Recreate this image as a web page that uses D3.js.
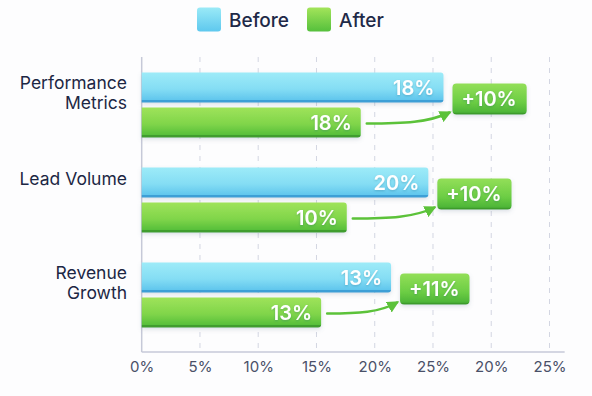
<!DOCTYPE html>
<html><head><meta charset="utf-8">
<script src="https://cdn.jsdelivr.net/npm/d3@7"></script>
<style>
html,body{margin:0;padding:0;background:#fdfdfe;}
svg{display:block;font-family:Inter,"Open Sans",sans-serif;}
</style></head>
<body>
<script>
// ---- data ----
const categories = [["Performance","Metrics"],["Lead Volume"],["Revenue","Growth"]];
const series = ["Before","After"];
const beforeValues = [25.9, 24.6, 21.4];   // bar length on axis scale
const afterValues  = [18.8, 17.6, 15.4];
const beforeLabels = ["18%","20%","13%"];
const afterLabels  = ["18%","10%","13%"];
const changeLabels = ["+10%","+10%","+11%"];
const tickValues = [0,5,10,15,20,25,30,35];
const tickLabels = ["0%","5%","10%","15%","20%","25%","20%","25%"];

const W = 592, H = 396;
const svg = d3.select("body").append("svg").attr("width", W).attr("height", H);
const defs = svg.append("defs");

function grad(id, stops){
  const g = defs.append("linearGradient").attr("id", id).attr("x1",0).attr("y1",0).attr("x2",0).attr("y2",1);
  stops.forEach(s => g.append("stop").attr("offset", s[0]).attr("stop-color", s[1]));
}
grad("gBefore", [[0,"#9debf8"],[0.55,"#84ddf4"],[0.9,"#62c7ed"],[0.92,"#3d9fd6"],[1,"#3d9fd6"]]);
grad("gAfter", [[0,"#9fe35a"],[0.55,"#80d54a"],[0.9,"#59c03b"],[0.92,"#3f9d2d"],[1,"#3f9d2d"]]);
grad("gBadge", [[0,"#93df58"],[0.6,"#6ccd44"],[0.93,"#4db537"],[0.95,"#3e9b2c"],[1,"#3e9b2c"]]);
grad("gSwB", [[0,"#9aeaf7"],[1,"#5ec8ee"]]);
grad("gSwA", [[0,"#a3e45a"],[1,"#55c03c"]]);

const sh = defs.append("filter").attr("id","shadow").attr("x","-10%").attr("y","-30%").attr("width","130%").attr("height","180%");
sh.append("feDropShadow").attr("dx",0).attr("dy",2).attr("stdDeviation",2).attr("flood-color","#6a7890").attr("flood-opacity",0.22);
const ts = defs.append("filter").attr("id","tshadow").attr("x","-20%").attr("y","-30%").attr("width","140%").attr("height","160%");
ts.append("feDropShadow").attr("dx",0).attr("dy",1).attr("stdDeviation",0.8).attr("flood-color","#1c5a7a").attr("flood-opacity",0.3);

defs.append("marker").attr("id","arrow").attr("viewBox","0 0 10 10").attr("refX",8).attr("refY",5)
  .attr("markerWidth",4.8).attr("markerHeight",4.8).attr("orient","auto-start-reverse").attr("markerUnits","strokeWidth")
  .append("path").attr("d","M0,0 L10,5 L0,10 Z").attr("fill","#5cc23a");

// ---- scales ----
const x = d3.scaleLinear().domain([0,35]).range([141.7, 549.5]);
const y = d3.scaleBand().domain(d3.range(categories.length)).range([57.5, 342.5]);
const sub = d3.scaleBand().domain(series).range([-32.5, 32.5]).paddingInner(1/7);
const plotTop = 57, plotBottom = 352;

// ---- grid ----
svg.append("g").selectAll("line").data(tickValues.slice(1)).join("line")
  .attr("x1", d=>x(d)).attr("x2", d=>x(d)).attr("y1", plotTop).attr("y2", plotBottom)
  .attr("stroke","#d3d6e2").attr("stroke-width",1).attr("stroke-dasharray","5,6");

// axes lines
svg.append("line").attr("x1", x(0)).attr("x2", x(0)).attr("y1", plotTop).attr("y2", plotBottom)
  .attr("stroke","#c6c9d8").attr("stroke-width",1.5);
svg.append("line").attr("x1", x(0)).attr("x2", x(36.3)).attr("y1", plotBottom).attr("y2", plotBottom)
  .attr("stroke","#c6c9d8").attr("stroke-width",1.5);

const ax = svg.append("g").attr("transform",`translate(0,${plotBottom})`)
  .call(d3.axisBottom(x).tickValues(tickValues).tickFormat((d,i)=>tickLabels[i]).tickSize(0).tickPadding(9));
ax.select(".domain").remove();
ax.selectAll("text").attr("font-size",15).attr("fill","#4a5068").attr("font-family","Inter, sans-serif");

// ---- bars ----
function barPath(x0, x1, y0, h, r){
  return `M${x0},${y0} H${x1-r} Q${x1},${y0} ${x1},${y0+r} V${y0+h-r} Q${x1},${y0+h} ${x1-r},${y0+h} H${x0} Z`;
}
const rows = categories.map((c,i)=>({i, c, b: beforeValues[i], a: afterValues[i], bl: beforeLabels[i], al: afterLabels[i], ch: changeLabels[i]}));
const g = svg.append("g");
rows.forEach(r=>{
  const cy = y(r.i) + y.bandwidth()/2;
  const yb = cy + sub("Before"), ya = cy + sub("After"), h = sub.bandwidth();
  g.append("path").attr("d", barPath(x(0), x(r.b), yb, h, 3)).attr("fill","url(#gBefore)").attr("filter","url(#shadow)");
  g.append("path").attr("d", barPath(x(0), x(r.a), ya, h, 3)).attr("fill","url(#gAfter)").attr("filter","url(#shadow)");
  g.append("text").attr("x", x(r.b)-9).attr("y", yb + h/2 + 7.5).attr("text-anchor","end")
    .attr("font-size",20).attr("font-weight",600).attr("fill","#ffffff").attr("filter","url(#tshadow)").text(r.bl);
  g.append("text").attr("x", x(r.a)-9).attr("y", ya + h/2 + 7.5).attr("text-anchor","end")
    .attr("font-size",20).attr("font-weight",600).attr("fill","#ffffff").attr("filter","url(#tshadow)").text(r.al);

  // category label
  const lines = r.c;
  const lh = 19.5;
  const t = g.append("text").attr("text-anchor","end").attr("font-size",17.5).attr("font-weight",400).attr("fill","#1c2744");
  lines.forEach((ln,k)=>{
    t.append("tspan").attr("x",127).attr("y", cy - (lines.length===1 ? 15 : 16) + k*lh).text(ln);
  });

  // badge
  const bx = x(r.b) + 9, bh = 31, by = cy - 6 - bh/2;
  const bg = g.append("g");
  const rect = bg.append("rect").attr("x", bx).attr("y", by).attr("height", bh).attr("rx",4)
    .attr("fill","url(#gBadge)").attr("filter","url(#shadow)");
  const bt = bg.append("text").attr("x", bx + 9).attr("y", by + bh/2 + 7)
    .attr("font-size",20).attr("font-weight",600).attr("fill","#fff").attr("filter","url(#tshadow)").text(r.ch);
  const tw = bt.node().getComputedTextLength();
  rect.attr("width", tw + 19);

  // arrow
  const x0 = x(r.a) + 6, y0 = ya + h/2 + 1;
  const x1 = bx - 3, y1 = by + bh - 2;
  const dx = x1 - x0;
  g.append("path").attr("d", `M${x0},${y0} C${x0+dx*0.45},${y0} ${x0+dx*0.75},${y0-1} ${x1},${y1}`)
    .attr("fill","none").attr("stroke","#5cc23a").attr("stroke-width",2.5).attr("stroke-linecap","round")
    .attr("marker-end","url(#arrow)");
});

// ---- legend ----
const lg = svg.append("g");
const items = [{s:"Before", fill:"url(#gSwB)", x:197},{s:"After", fill:"url(#gSwA)", x:307}];
items.forEach(it=>{
  lg.append("rect").attr("x", it.x).attr("y", 7.5).attr("width",24).attr("height",24).attr("rx",3).attr("fill", it.fill);
  lg.append("text").attr("x", it.x+32).attr("y", 26.5).attr("font-size",19).attr("font-weight",500).attr("fill","#1f2a48").text(it.s);
});
</script>
</body></html>
